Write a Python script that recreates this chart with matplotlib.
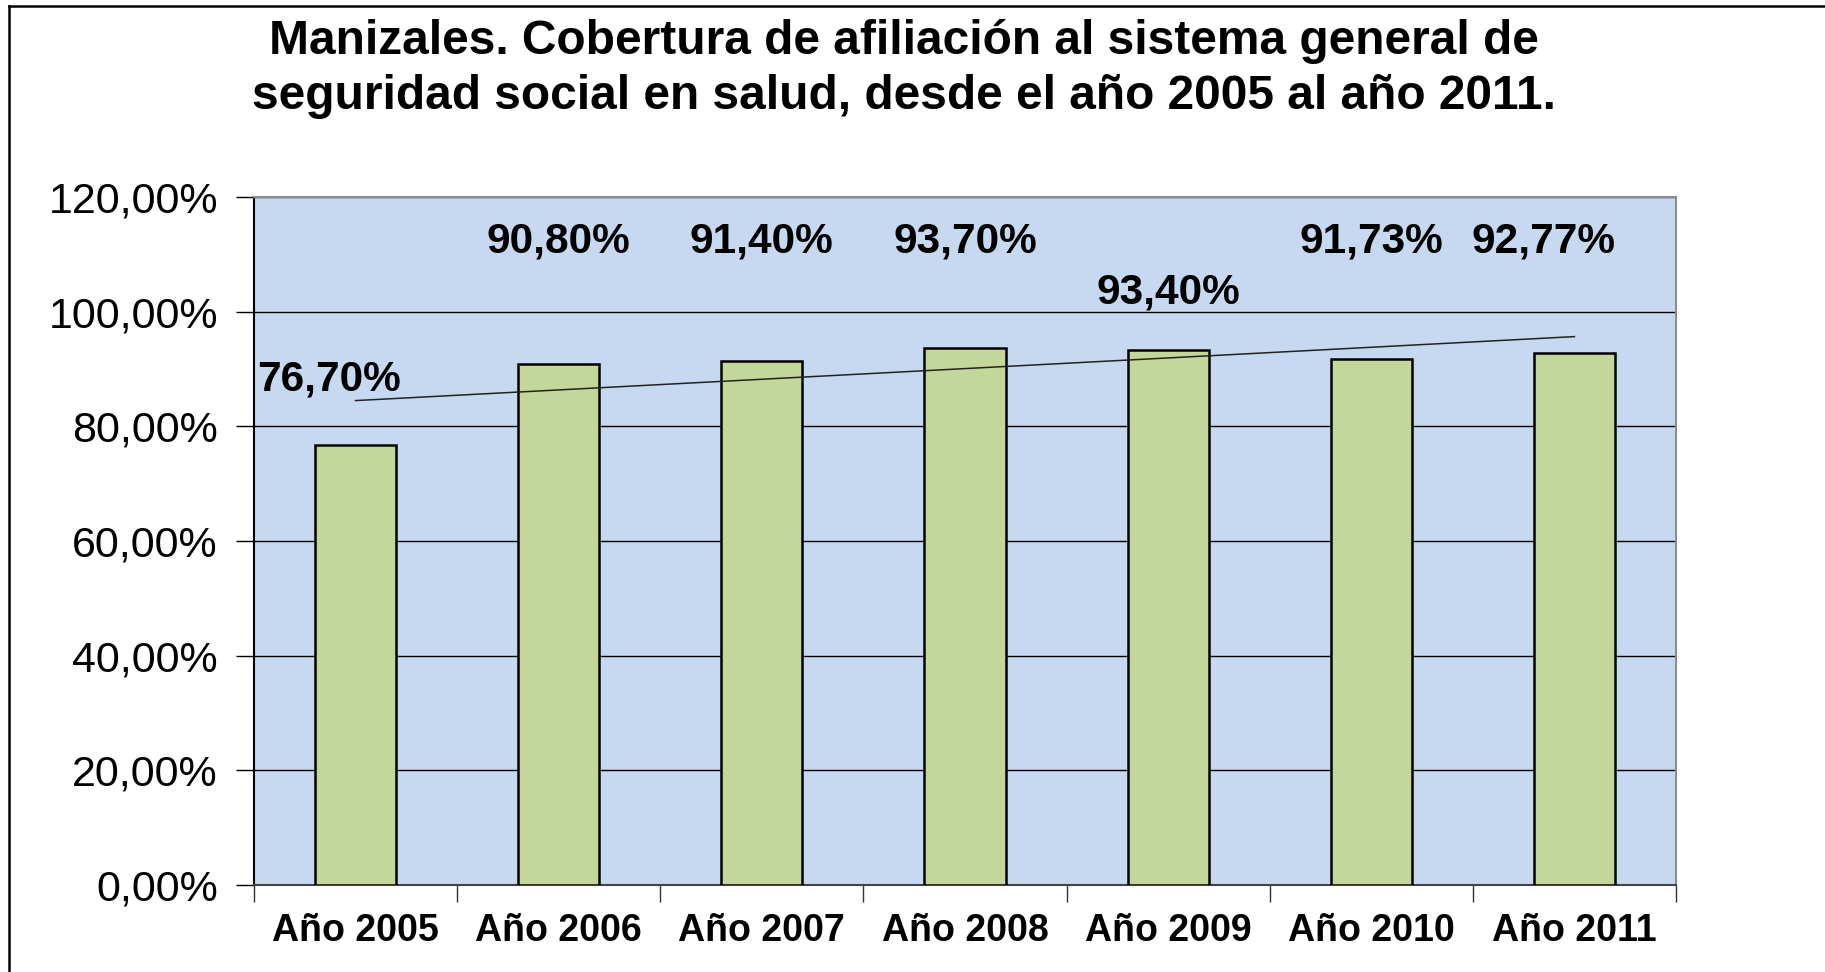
import numpy as np
import matplotlib
matplotlib.use("Agg")
from matplotlib import pyplot as plt
from matplotlib.lines import Line2D
from matplotlib.ticker import FuncFormatter, FixedLocator

plt.rcParams["font.family"] = ["Liberation Sans", "DejaVu Sans"]

# data
years = ["Año 2005", "Año 2006", "Año 2007", "Año 2008", "Año 2009", "Año 2010", "Año 2011"]
coverage = [76.70, 90.80, 91.40, 93.70, 93.40, 91.73, 92.77]
y_ticks = [0, 20, 40, 60, 80, 100, 120]

# where the data labels sit (data units), as placed in the original chart
label_y = [88.1, 112.3, 112.3, 112.3, 103.4, 112.3, 112.3]
label_dx = [-0.13, 0, 0, 0, 0, 0, -0.15]

W, H, DPI = 1825, 972, 100
fig = plt.figure(figsize=(W / DPI, H / DPI), dpi=DPI)

# axes box in pixels: left 254, right 1676, top 197, bottom 885
ax = fig.add_axes([254 / W, 1 - 885 / H, (1676 - 254) / W, (885 - 197) / H])
ax.set_facecolor("#C6D9F0")

x = np.arange(len(years))
ax.bar(x, coverage, width=0.4, color="#C4D79B", edgecolor="black", linewidth=1.8, zorder=3)

# linear trend line over the series
slope, icpt = np.polyfit(x, coverage, 1)
ax.plot(x[[0, -1]], slope * x[[0, -1]] + icpt, color="#222222", linewidth=1.1, zorder=4)

for xi, v, ly, dx in zip(x, coverage, label_y, label_dx):
    txt = f"{v:.2f}%".replace(".", ",")
    ax.text(xi + dx, ly, txt, ha="center", va="center", fontsize=30.5, fontweight="bold", zorder=5)

ax.set_xlim(-0.5, len(years) - 0.5)
ax.set_ylim(0, 120)
ax.set_yticks(y_ticks)
ax.yaxis.set_major_formatter(FuncFormatter(lambda v, p: f"{v:.2f}%".replace(".", ",")))
ax.grid(axis="y", color="black", linewidth=1.0, zorder=1)
ax.set_axisbelow(True)

ax.set_xticks(x)
ax.set_xticklabels(years, fontsize=27, fontweight="bold")
ax.tick_params(axis="x", which="major", length=0, pad=20)
ax.xaxis.set_minor_locator(FixedLocator(np.arange(-0.5, len(years), 1.0)))
ax.tick_params(axis="x", which="minor", length=12, width=1.0, color="#333333")
ax.tick_params(axis="y", length=13, width=1.0, pad=13, labelsize=31, color="black")

ax.spines["left"].set_color("black")
ax.spines["left"].set_linewidth(1.5)
ax.spines["bottom"].set_color("#444444")
ax.spines["bottom"].set_linewidth(1.5)
for s in ("top", "right"):
    ax.spines[s].set_color("#8C8C8C")
    ax.spines[s].set_linewidth(1.5)

fig.text(904 / W, 1 - 69 / H,
         "Manizales. Cobertura de afiliación al sistema general de\n"
         "seguridad social en salud, desde el año 2005 al año 2011.",
         ha="center", va="center", fontsize=34.5, fontweight="bold", linespacing=1.27)

# outer chart frame (only the top and left edges are visible in the image)
fig.add_artist(Line2D([9 / W, 9 / W], [0, 1 - 6 / H], transform=fig.transFigure, color="black", linewidth=1.8))
fig.add_artist(Line2D([9 / W, 1], [1 - 6 / H, 1 - 6 / H], transform=fig.transFigure, color="black", linewidth=1.8))

fig.savefig("out.png", dpi=DPI)
